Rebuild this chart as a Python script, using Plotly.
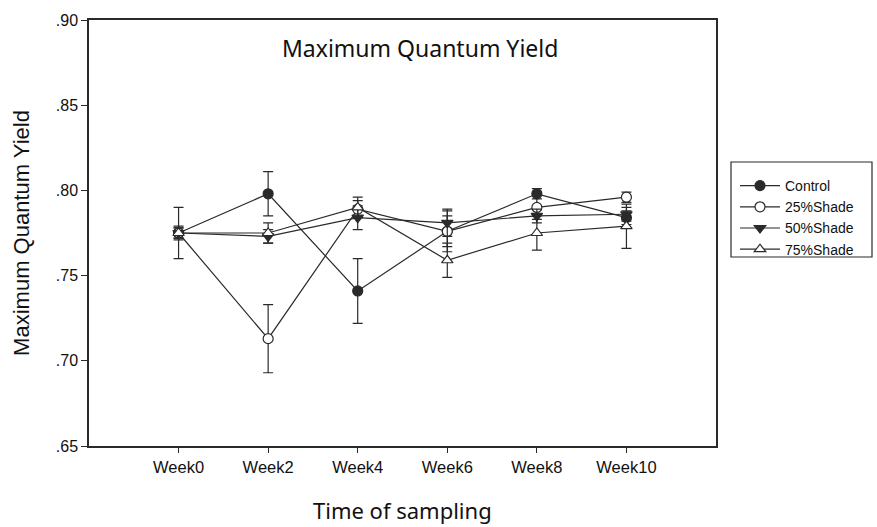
import plotly.graph_objects as go

weeks = ["Week0", "Week2", "Week4", "Week6", "Week8", "Week10"]
series_names = ["Control", "25%Shade", "50%Shade", "75%Shade"]

control = [0.775, 0.798, 0.741, 0.776, 0.798, 0.784]
control_err = [0.015, 0.013, 0.019, 0.009, 0.003, 0.004]
shade25 = [0.775, 0.713, 0.789, 0.776, 0.790, 0.796]
shade25_err = [0.004, 0.020, 0.005, 0.012, 0.007, 0.003]
shade50 = [0.775, 0.773, 0.784, 0.781, 0.785, 0.786]
shade50_err = [0.003, 0.004, 0.007, 0.008, 0.004, 0.004]
shade75 = [0.775, 0.775, 0.790, 0.759, 0.775, 0.779]
shade75_err = [0.003, 0.006, 0.006, 0.010, 0.010, 0.013]

ytick_vals = [0.65, 0.70, 0.75, 0.80, 0.85, 0.90]
ytick_text = [".65", ".70", ".75", ".80", ".85", ".90"]

ink = "#2a2a2a"
x_idx = list(range(len(weeks)))

styles = [
    dict(symbol="circle", color=ink, size=10),
    dict(symbol="circle", color="white", size=10),
    dict(symbol="triangle-down", color=ink, size=10),
    dict(symbol="triangle-up", color="white", size=10),
]
values = [control, shade25, shade50, shade75]
errors = [control_err, shade25_err, shade50_err, shade75_err]

fig = go.Figure()
for name, y, e, st in zip(series_names, values, errors, styles):
    fig.add_trace(go.Scatter(
        x=x_idx, y=y, name=name, mode="lines+markers",
        line=dict(color=ink, width=1.2),
        marker=dict(symbol=st["symbol"], size=st["size"], color=st["color"],
                    line=dict(color=ink, width=1.2)),
        error_y=dict(type="data", array=e, visible=True, color=ink,
                     thickness=1.2, width=5),
    ))

fig.add_annotation(text="Maximum Quantum Yield", xref="paper", yref="paper",
                   x=0.528, y=0.934, xanchor="center", yanchor="middle",
                   showarrow=False, font=dict(family="Noto Sans", size=23, color="#111"))

# x-axis title
fig.add_annotation(text="Time of sampling", xref="paper", yref="paper",
                   x=0.5, y=(446 - 510) / 426, xanchor="center", yanchor="middle",
                   showarrow=False, font=dict(family="Noto Sans", size=22, color="#111"))

# legend frame
fig.add_shape(type="rect", xref="paper", yref="paper",
              x0=(731 - 89) / 627, x1=(872 - 89) / 627,
              y0=(446 - 257) / 426, y1=(446 - 162) / 426,
              line=dict(color=ink, width=1.2))

fig.update_layout(
    width=877, height=527,
    margin=dict(l=89, r=161, t=20, b=81),
    plot_bgcolor="white", paper_bgcolor="white",
    showlegend=True,
    legend=dict(x=(735 - 89) / 627, y=(446 - 170) / 426, xanchor="left", yanchor="top",
                font=dict(family="Liberation Sans", size=14, color="#111"),
                bgcolor="rgba(0,0,0,0)", borderwidth=0, tracegroupgap=0,
                itemwidth=40),
    xaxis=dict(
        range=[-1, 6], tickvals=x_idx, ticktext=weeks,
        showgrid=False, zeroline=False, automargin=False,
        showline=True, linecolor=ink, linewidth=1.5, mirror=True,
        ticks="outside", ticklen=5, tickcolor=ink, tickwidth=1.2,
        tickfont=dict(family="Liberation Sans", size=16.5, color="#111"),
    ),
    yaxis=dict(
        range=[0.65, 0.90], tickvals=ytick_vals, ticktext=ytick_text,
        showgrid=False, zeroline=False,
        showline=True, linecolor=ink, linewidth=1.5, mirror=True,
        ticks="outside", ticklen=6, tickcolor=ink, tickwidth=1.2,
        tickfont=dict(family="Liberation Sans", size=16, color="#111"),
        title=dict(text="Maximum Quantum Yield", standoff=20,
                   font=dict(family="Liberation Sans", size=22, color="#111")),
    ),
)

fig.write_html("out.html")
